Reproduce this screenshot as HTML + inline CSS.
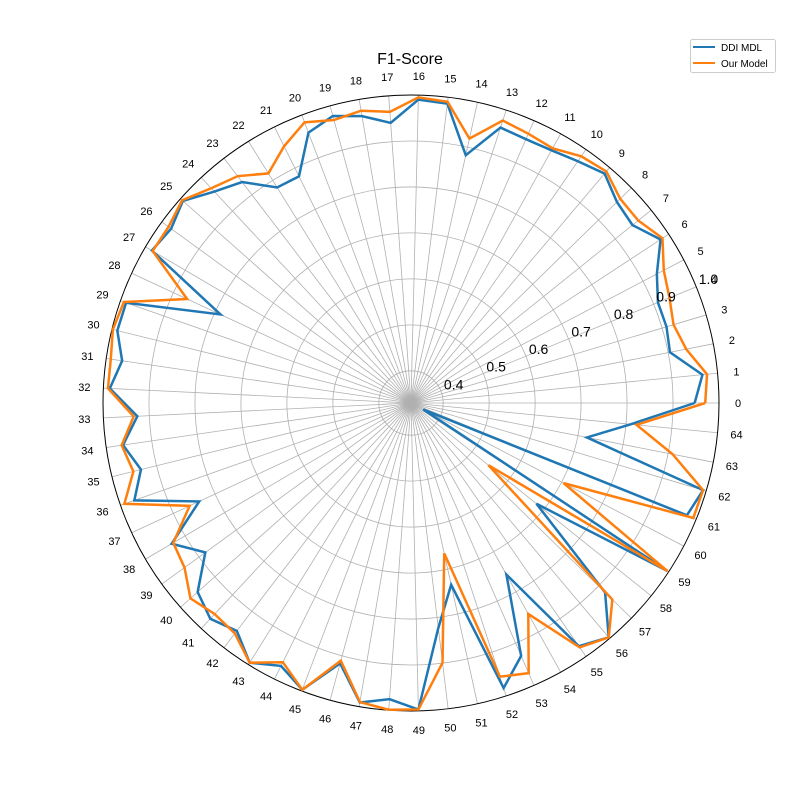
<!DOCTYPE html>
<html><head><meta charset="utf-8"><style>
body{margin:0;background:#fff;}
svg{display:block;font-family:"Liberation Sans","DejaVu Sans",sans-serif;}
</style></head><body>
<svg id="chart" width="800" height="800" viewBox="0 0 800 800">
<rect width="800" height="800" fill="#fff"/>
<text x="410" y="64" font-size="16" text-anchor="middle">F1-Score</text>
<g id="grid"></g>
<g id="series"></g>
<g id="labels"></g>
<g>
<rect x="690.5" y="39.5" width="85" height="33" rx="2" fill="#fff" stroke="#ccc"/>
<line x1="693" y1="47" x2="715" y2="47" stroke="#1f77b4" stroke-width="2"/>
<text x="721" y="51" font-size="10">DDI MDL</text>
<line x1="693" y1="63" x2="715" y2="63" stroke="#ff7f0e" stroke-width="2"/>
<text x="721" y="67" font-size="10">Our Model</text>
</g>
</svg>
<script>
const categories = Array.from({length:65},(_,i)=>String(i));
const ddiMdl = [0.947,0.967,0.904,0.91,0.91,0.934,0.979,0.948,0.956,0.983,0.969,0.959,0.956,0.96,0.882,0.986,0.99,
0.941,0.963,0.977,0.959,0.88,0.882,0.935,0.958,0.993,0.975,0.984,0.787,0.987,0.988,0.965,0.986,
0.926,0.963,0.935,0.968,0.838,0.934,0.883,0.95,0.971,0.954,0.995,0.968,0.997,0.917,0.991,0.976,
0.997,0.823,0.735,0.982,0.93,0.757,0.973,0.997,0.92,0.68,0.997,0.36,0.978,0.993,0.72,0.81];
const ourModel = [0.97,0.977,0.94,0.926,0.937,0.951,0.984,0.964,0.966,0.989,0.982,0.964,0.969,0.976,0.919,0.99,0.995,
0.965,0.975,0.968,0.983,0.953,0.918,0.951,0.968,0.995,0.982,0.982,0.867,0.992,0.998,0.99,0.99,
0.934,0.966,0.952,0.991,0.861,0.93,0.939,0.971,0.957,0.961,0.995,0.959,0.997,0.911,0.99,0.999,
0.997,0.899,0.665,0.956,0.971,0.855,0.976,0.997,0.942,0.546,0.997,0.705,0.993,0.993,0.91,0.823];
const rTicks = [0.4,0.5,0.6,0.7,0.8,0.9,1.0];
const rTickLabels = ["0.4","0.5","0.6","0.7","0.8","0.9","1.0"];

const NS="http://www.w3.org/2000/svg";
const CX=411, CY=403, R=308, RMIN=0.33, RMAX=1.0;
const N=categories.length;
function rScale(v){return Math.max(0,(v-RMIN)/(RMAX-RMIN)*R);}
function ang(i){return i*2*Math.PI/N;}
function pt(i,r){return [CX+r*Math.cos(ang(i)), CY-r*Math.sin(ang(i))];}
function mk(tag,attrs,parent){const e=document.createElementNS(NS,tag);for(const k in attrs)e.setAttribute(k,attrs[k]);parent.appendChild(e);return e;}

const grid=document.getElementById('grid');
categories.forEach((c,i)=>{
  const p=pt(i,R);
  const l=mk('line',{x1:CX,y1:CY,x2:p[0].toFixed(2),y2:p[1].toFixed(2),stroke:'#b0b0b0','stroke-width':0.8},grid);
  
  
});
rTicks.forEach((t,k)=>{
  if(t>=RMAX) return;
  const c=mk('circle',{cx:CX,cy:CY,r:rScale(t).toFixed(2),fill:'none',stroke:'#b0b0b0','stroke-width':0.8},grid);
  
  
});
const outer=mk('circle',{cx:CX,cy:CY,r:R,fill:'none',stroke:'#000','stroke-width':1},grid);



const series=document.getElementById('series');
function drawSeries(vals,color,name){
  const pts=vals.map((v,i)=>pt(i,rScale(v)));
  pts.push(pts[0]);
  const pl=mk('polyline',{points:pts.map(p=>p[0].toFixed(2)+','+p[1].toFixed(2)).join(' '),fill:'none',stroke:color,'stroke-width':2.5,'stroke-linejoin':'miter'},series);
  
  
}
drawSeries(ddiMdl,'#1f77b4','series-ddi-mdl');
drawSeries(ourModel,'#ff7f0e','series-our-model');

const labels=document.getElementById('labels');
categories.forEach((c,i)=>{
  const p=pt(i,R+19);
  const t=mk('text',{x:p[0].toFixed(2),y:(p[1]+4).toFixed(2),'font-size':11,'text-anchor':'middle'},labels);
  t.textContent=c;
  
  
});
const la=22.5*Math.PI/180;
rTicks.forEach((v,k)=>{
  const r=rScale(v)+14;
  const x=CX+r*Math.cos(la), y=CY-r*Math.sin(la);
  const t=mk('text',{x:x.toFixed(2),y:(y+4).toFixed(2),'font-size':14,'text-anchor':'middle'},labels);
  t.textContent=rTickLabels[k];
  
  
});
</script>
</body></html>
